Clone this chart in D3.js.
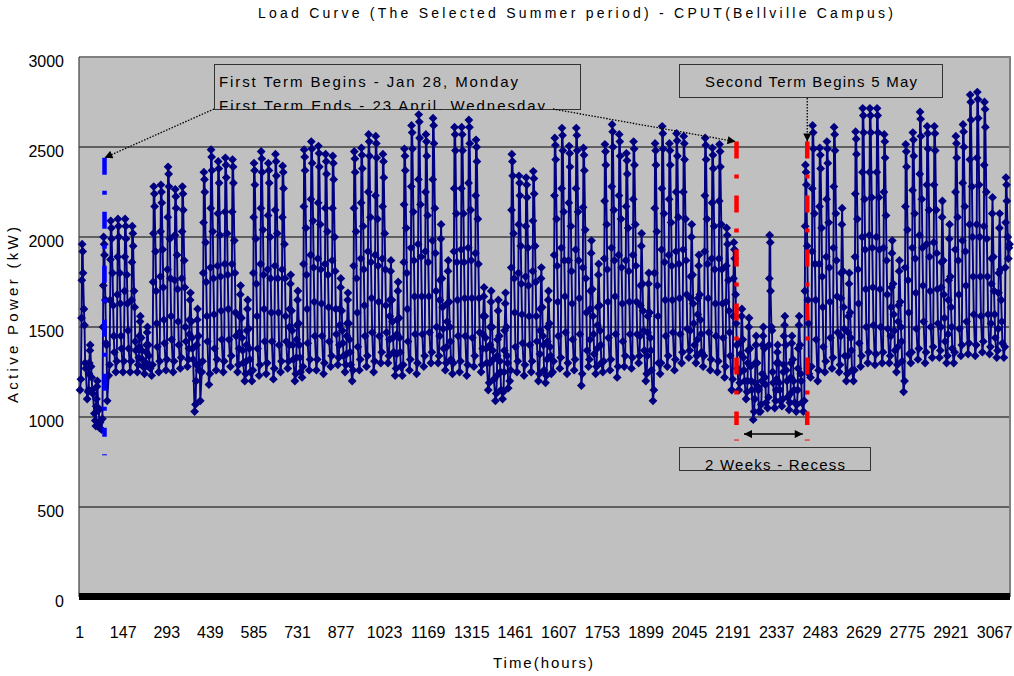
<!DOCTYPE html>
<html><head><meta charset="utf-8">
<script src="https://cdn.jsdelivr.net/npm/d3@7"></script>
<style>
body{margin:0;background:#fff}
text{font-family:"Liberation Sans",Arial,sans-serif;fill:#000}
</style>
</head><body><svg id="c" width="1014" height="676"></svg>
<script>
// Daily readings (kW) at fixed hours of each day, day 0 = 25 Jan (Fri) ... day 129 = 2 Jun
const sampleHours = [3, 6, 8, 9, 10, 12, 13, 16, 18, 20, 22];
const kwH03 = [
1150,1100,1020,930,1230,1250,1250,1250,1250,1240,
1230,1250,1260,1250,1270,1280,1030,1250,1180,1260,
1250,1280,1250,1200,1200,1230,1240,1210,1250,1270,
1200,1220,1260,1260,1240,1280,1290,1250,1200,1260,
1280,1250,1300,1300,1230,1230,1260,1240,1280,1300,
1300,1260,1240,1250,1230,1280,1250,1150,1090,1100,
1200,1250,1230,1250,1200,1190,1250,1270,1240,1260,
1175,1280,1240,1250,1260,1220,1280,1270,1300,1200,
1090,1240,1280,1260,1300,1330,1300,1280,1260,1250,
1220,1150,1150,1100,985,1030,1050,1050,1060,1040,
1030,1030,1220,1200,1250,1270,1250,1200,1200,1280,
1300,1290,1300,1300,1250,1140,1300,1320,1300,1330,
1330,1300,1300,1340,1350,1340,1360,1350,1330,1330];
const kwH06 = [
1210,1140,980,990,1290,1310,1310,1310,1290,1280,
1290,1310,1320,1310,1330,1320,1070,1310,1240,1320,
1310,1340,1290,1240,1260,1290,1300,1270,1310,1310,
1240,1280,1320,1320,1300,1340,1330,1290,1260,1320,
1340,1310,1360,1340,1270,1290,1320,1300,1340,1360,
1340,1300,1300,1310,1290,1340,1290,1190,1130,1140,
1260,1310,1290,1310,1240,1230,1310,1330,1300,1320,
1240,1320,1280,1310,1320,1280,1340,1330,1340,1240,
1150,1300,1340,1320,1360,1370,1340,1340,1320,1310,
1280,1210,1190,1140,1030,1070,1110,1090,1100,1080,
1070,1090,1280,1260,1310,1330,1290,1240,1260,1340,
1360,1350,1360,1340,1290,1200,1360,1380,1360,1390,
1370,1340,1360,1400,1410,1400,1420,1390,1370,1390];
const kwH08 = [
1550,1150,950,1500,1650,1680,1700,1650,1330,1300,
1750,1780,1820,1760,1770,1380,1200,1800,1830,1840,
1850,1850,1380,1310,1800,1850,1820,1840,1820,1400,
1330,1850,1900,1880,1850,1870,1400,1350,1840,1880,
1920,1900,1880,1430,1350,1860,1940,1960,1920,1980,
1450,1390,1920,1930,1940,1910,1380,1300,1230,1250,
1830,1800,1780,1810,1350,1320,1900,1940,1870,1930,
1830,1430,1380,1880,1940,1900,1870,1900,1450,1340,
1800,1930,1900,1920,1930,1480,1430,1920,1880,1880,
1640,1560,1250,1200,1100,1200,1400,1150,1250,1130,
1150,1700,1920,1850,1890,1940,1450,1340,1890,2000,
2010,2000,1940,1450,1390,1830,1940,2010,1960,1970,
1500,1460,1930,1980,2070,2070,2060,1520,1490,1830];
const kwH09 = [
1760,1240,1060,1730,1875,1890,1890,1860,1390,1360,
2020,2030,2110,2010,2030,1460,1290,2080,2160,2130,
2140,2140,1470,1400,2110,2160,2120,2150,2110,1500,
1430,2170,2210,2190,2160,2160,1510,1450,2160,2190,
2250,2230,2170,1560,1460,2180,2280,2320,2250,2320,
1650,1530,2270,2270,2300,2230,1460,1400,1340,1370,
2150,2070,2060,2090,1480,1420,2230,2270,2190,2270,
2165,1600,1510,2200,2280,2230,2170,2210,1620,1470,
2160,2270,2210,2250,2250,1660,1570,2230,2190,2200,
1840,1770,1350,1300,1190,1240,1770,1210,1290,1220,
1270,2060,2270,2170,2210,2280,1660,1470,2240,2360,
2360,2360,2250,1610,1530,2170,2260,2350,2290,2290,
1720,1650,2250,2300,2430,2440,2400,1740,1690,2080];
const kwH10 = [
1960,1300,1100,2000,2090,2100,2100,2060,1450,1400,
2280,2290,2390,2265,2280,1540,1400,2360,2485,2420,
2440,2430,1560,1480,2410,2475,2410,2460,2395,1600,
1510,2485,2530,2505,2460,2450,1600,1520,2475,2495,
2570,2560,2460,1650,1540,2490,2620,2680,2570,2660,
1760,1630,2610,2610,2650,2540,1560,1500,1430,1480,
2460,2340,2330,2365,1600,1500,2550,2605,2505,2605,
2495,1700,1610,2515,2625,2570,2465,2530,1730,1560,
2520,2615,2520,2575,2560,1780,1660,2550,2495,2515,
2050,1970,1420,1370,1300,1400,2010,1300,1450,1300,
1380,2400,2620,2495,2530,2610,1800,1560,2585,2715,
2715,2715,2570,1720,1620,2515,2580,2695,2615,2615,
1860,1760,2560,2625,2790,2805,2750,1880,1800,2330];
const kwH12 = [
1920,1370,1170,1960,2050,2060,2060,2020,1530,1470,
2240,2250,2350,2225,2240,1650,1540,2320,2445,2380,
2400,2390,1680,1600,2370,2435,2370,2420,2360,1740,
1650,2445,2490,2465,2420,2410,1720,1650,2435,2455,
2530,2520,2420,1810,1700,2450,2580,2640,2530,2620,
1990,1810,2570,2570,2610,2500,1670,1640,1590,1630,
2420,2300,2290,2325,1770,1650,2510,2565,2465,2565,
2455,1910,1790,2475,2585,2530,2425,2490,1950,1740,
2480,2575,2480,2535,2520,2000,1840,2510,2455,2475,
2010,1930,1560,1500,1400,1450,1970,1360,1510,1410,
1510,2360,2580,2455,2490,2570,2070,1740,2545,2675,
2675,2675,2530,1910,1810,2475,2540,2655,2575,2575,
2110,1990,2520,2585,2750,2765,2710,2130,2050,2290];
const kwH13 = [
1800,1400,1200,1900,1990,2000,1990,1950,1560,1500,
2170,2190,2280,2160,2150,1690,1600,2250,2370,2300,
2330,2300,1730,1650,2290,2360,2300,2340,2270,1790,
1700,2370,2410,2390,2350,2320,1770,1690,2360,2380,
2450,2440,2330,1870,1750,2370,2490,2550,2450,2520,
2070,1870,2480,2480,2520,2420,1720,1700,1650,1690,
2340,2230,2220,2240,1830,1700,2430,2480,2390,2480,
2370,1980,1850,2400,2500,2450,2350,2400,2020,1800,
2400,2490,2400,2450,2430,2070,1900,2430,2380,2390,
1960,1880,1600,1550,1450,1500,1700,1400,1560,1450,
1560,2290,2490,2380,2410,2480,2160,1800,2460,2580,
2580,2580,2440,1980,1870,2390,2450,2560,2490,2480,
2200,2070,2440,2500,2650,2660,2610,2220,2130,2200];
const kwH16 = [
1600,1280,1050,1650,1800,1800,1790,1700,1440,1400,
1920,1930,1990,1900,1870,1530,1450,1970,2030,2010,
2020,1980,1550,1490,1990,2040,2000,2020,1960,1590,
1520,2050,2090,2070,2030,2000,1590,1520,2030,2060,
2110,2100,2020,1650,1550,2050,2140,2180,2120,2160,
1770,1640,2130,2130,2150,2100,1560,1500,1450,1500,
2020,1950,1940,1950,1610,1520,2100,2140,2060,2140,
2040,1710,1620,2070,2150,2100,2050,2070,1740,1580,
2030,2130,2080,2110,2100,1790,1680,2100,2060,2070,
1760,1680,1430,1380,1300,1380,1500,1300,1400,1320,
1400,1950,2130,2050,2080,2130,1810,1580,2100,2210,
2220,2220,2120,1740,1640,2040,2130,2210,2150,2150,
1870,1780,2110,2170,2280,2290,2250,1890,1820,2000];
const kwH18 = [
1510,1220,1040,1410,1620,1630,1630,1610,1370,1340,
1700,1720,1770,1710,1720,1440,1260,1750,1770,1780,
1790,1800,1440,1380,1740,1790,1770,1770,1770,1480,
1400,1790,1830,1820,1790,1810,1480,1430,1770,1820,
1860,1840,1820,1530,1440,1800,1870,1890,1860,1910,
1610,1500,1860,1860,1870,1850,1440,1370,1310,1340,
1770,1740,1730,1750,1450,1390,1840,1870,1810,1870,
1770,1560,1480,1820,1870,1830,1810,1840,1590,1440,
1730,1860,1840,1850,1870,1630,1540,1850,1820,1820,
1590,1520,1330,1280,1170,1220,1480,1190,1260,1200,
1240,1650,1850,1780,1830,1870,1610,1440,1820,1930,
1940,1930,1870,1570,1500,1760,1880,1940,1890,1910,
1680,1610,1870,1920,2000,2000,1990,1700,1650,1880];
const kwH20 = [
1300,1150,940,1400,1450,1450,1480,1420,1320,1290,
1520,1540,1560,1530,1500,1380,1300,1560,1570,1590,
1600,1580,1370,1320,1560,1600,1580,1580,1560,1400,
1330,1600,1640,1630,1610,1600,1410,1360,1580,1620,
1660,1640,1620,1440,1360,1600,1670,1670,1670,1700,
1490,1420,1650,1660,1660,1660,1380,1320,1250,1300,
1580,1570,1560,1560,1400,1340,1640,1670,1630,1660,
1580,1460,1400,1640,1670,1630,1640,1640,1480,1370,
1560,1650,1650,1660,1680,1520,1460,1660,1630,1630,
1470,1400,1260,1200,1150,1180,1250,1150,1200,1150,
1200,1520,1650,1610,1640,1670,1490,1370,1630,1710,
1720,1710,1680,1480,1420,1580,1690,1730,1700,1710,
1550,1500,1680,1730,1780,1780,1780,1570,1530,1940];
const kwH22 = [
1270,1130,970,1090,1360,1380,1380,1370,1280,1270,
1390,1410,1430,1400,1420,1320,1090,1420,1380,1430,
1430,1450,1300,1250,1380,1420,1420,1400,1420,1320,
1250,1410,1450,1450,1420,1460,1340,1290,1390,1450,
1470,1450,1470,1360,1280,1420,1460,1460,1470,1500,
1380,1320,1450,1450,1440,1470,1300,1210,1150,1160,
1390,1410,1400,1420,1260,1240,1450,1470,1430,1460,
1370,1350,1300,1440,1460,1420,1460,1460,1370,1260,
1300,1450,1470,1460,1490,1400,1360,1470,1450,1440,
1340,1270,1200,1150,1030,1080,1190,1090,1110,1080,
1080,1240,1430,1390,1440,1470,1340,1260,1410,1500,
1510,1500,1490,1370,1310,1350,1490,1530,1500,1520,
1420,1380,1490,1530,1570,1560,1570,1440,1410,1960];

const xTickLabels = [1,147,293,439,585,731,877,1023,1169,1315,1461,1607,1753,1899,2045,2191,2337,2483,2629,2775,2921,3067];
const yTicks = [0,500,1000,1500,2000,2500,3000];
const totalHours = 3120;
// annotation markers (hour index, kW)
const termLines = [
  {hour: 86, top: 2440, bottom: 890, tick: 790, color: "#0000FF"},
  {hour: 2204, top: 2530, bottom: 955, tick: 872, color: "#FF0000"},
  {hour: 2441, top: 2530, bottom: 955, tick: 872, color: "#FF0000"}
];
const recessArrow = {from: 2229, to: 2426, kw: 905};

const svg = d3.select("#c");
const L = 79, R = 1010, T = 57, B = 597;
const x = d3.scaleLinear().domain([0.5, totalHours + 0.5]).range([L, R]);
const y = d3.scaleLinear().domain([0, 3000]).range([B, T]);

// build series
const series = [];
const sampleArrays = [kwH03, kwH06, kwH08, kwH09, kwH10, kwH12, kwH13, kwH16, kwH18, kwH20, kwH22];
for (let d = 0; d < kwH03.length; d++) {
  sampleHours.forEach((h, j) => series.push({h: d * 24 + h + 1, v: sampleArrays[j][d]}));
}

// defs
const defs = svg.append("defs");
defs.append("marker").attr("id","ah").attr("viewBox","0 0 10 10").attr("refX",10).attr("refY",5)
  .attr("markerWidth",10).attr("markerHeight",8).attr("markerUnits","userSpaceOnUse").attr("orient","auto-start-reverse")
  .append("path").attr("d","M0,0L10,5L0,10Z").attr("fill","#000");
defs.append("clipPath").attr("id","clipBox1").append("rect").attr("x",214).attr("y",64).attr("width",366).attr("height",46);
defs.append("clipPath").attr("id","clipBox3").append("rect").attr("x",679).attr("y",447).attr("width",192).attr("height",24);

// plot area
svg.append("rect").attr("x",L).attr("y",T).attr("width",R-L).attr("height",B-T).attr("fill","#C0C0C0");

// gridlines
svg.append("g").selectAll("line").data(yTicks.filter(v=>v>0 && v<3000)).join("line")
  .attr("x1",L).attr("x2",R).attr("y1",d=>y(d)).attr("y2",d=>y(d))
  .attr("stroke","#000").attr("stroke-width",1);
// plot border
svg.append("path").attr("d",`M${L},${T}H${R}V${B}`).attr("fill","none").attr("stroke","#808080").attr("stroke-width",2);
svg.append("line").attr("x1",L).attr("x2",L).attr("y1",T).attr("y2",B).attr("stroke","#404040").attr("stroke-width",1.2);

// data line
svg.append("path").datum(series)
  .attr("d", d3.line().x(d=>x(d.h)).y(d=>y(d.v)))
  .attr("fill","none").attr("stroke","#000080").attr("stroke-width",1.9);
const r = 4.4;
svg.append("g").selectAll("path").data(series).join("path")
  .attr("transform", d=>`translate(${x(d.h)},${y(d.v)})`)
  .attr("d", `M0,${-r}L${r},0L0,${r}L${-r},0Z`)
  .attr("fill","#000080");

// term lines
termLines.forEach(t => {
  svg.append("line").attr("x1",x(t.hour)).attr("x2",x(t.hour)).attr("y1",y(t.top)).attr("y2",y(t.bottom))
    .attr("stroke",t.color).attr("stroke-width",4.5).attr("stroke-dasharray","17,16,4,17");
  svg.append("line").attr("x1",x(t.hour)-2.5).attr("x2",x(t.hour)+2.5).attr("y1",y(t.tick)).attr("y2",y(t.tick))
    .attr("stroke",t.color).attr("stroke-width",1);
});

// x axis band (dense category ticks)
svg.append("rect").attr("x",L).attr("y",B-4).attr("width",R-L).attr("height",7).attr("fill","#000");

// y axis labels
svg.append("g").attr("transform",`translate(${L},0)`)
  .call(d3.axisLeft(y).tickValues(yTicks).tickSize(0).tickPadding(15).tickFormat(d3.format("d")))
  .call(g=>g.select(".domain").remove())
  .call(g=>g.selectAll("text").attr("font-size",16).attr("font-family","Liberation Sans, Arial, sans-serif").attr("dy","0.6em"));

// x axis labels
svg.append("g").attr("transform",`translate(0,${B})`)
  .call(d3.axisBottom(x).tickValues(xTickLabels).tickSize(0).tickPadding(30).tickFormat(d3.format("d")))
  .call(g=>g.select(".domain").remove())
  .call(g=>g.selectAll("text").attr("font-size",16).attr("font-family","Liberation Sans, Arial, sans-serif"));

// titles
svg.append("text").attr("x",258).attr("y",18).attr("font-size",14).attr("textLength",635).attr("lengthAdjust","spacing")
  .text("Load Curve (The Selected Summer period) - CPUT(Bellville Campus)");
svg.append("text").attr("x",493).attr("y",668).attr("font-size",15).attr("textLength",100).attr("lengthAdjust","spacing")
  .text("Time(hours)");
svg.append("text").attr("transform","translate(18,403) rotate(-90)").attr("font-size",15)
  .attr("textLength",176).attr("lengthAdjust","spacing").text("Active Power (kW)");

// annotation box 1
svg.append("rect").attr("x",214.5).attr("y",64.5).attr("width",366).attr("height",45)
  .attr("fill","none").attr("stroke","#333").attr("stroke-width",1);
const b1 = svg.append("g").attr("clip-path","url(#clipBox1)");
b1.append("text").attr("x",219).attr("y",87).attr("font-size",15).attr("textLength",299).attr("lengthAdjust","spacing")
  .text("First Term Begins - Jan 28, Monday");
b1.append("text").attr("x",219).attr("y",111).attr("font-size",15).attr("textLength",326).attr("lengthAdjust","spacing")
  .text("First Term Ends - 23 April, Wednesday");
svg.append("line").attr("x1",214).attr("y1",109).attr("x2",x(termLines[0].hour)).attr("y2",y(termLines[0].top))
  .attr("stroke","#000").attr("stroke-width",1.3).attr("stroke-dasharray","1.5,1.5").attr("marker-end","url(#ah)");
svg.append("line").attr("x1",553).attr("y1",109).attr("x2",x(termLines[1].hour)-1).attr("y2",y(termLines[1].top))
  .attr("stroke","#000").attr("stroke-width",1.3).attr("stroke-dasharray","1.5,1.5").attr("marker-end","url(#ah)");

// annotation box 2
svg.append("rect").attr("x",679.5).attr("y",64.5).attr("width",263).attr("height",33)
  .attr("fill","none").attr("stroke","#333").attr("stroke-width",1);
svg.append("text").attr("x",705).attr("y",87).attr("font-size",15).attr("textLength",212).attr("lengthAdjust","spacing")
  .text("Second Term Begins 5 May");
svg.append("line").attr("x1",x(termLines[2].hour)).attr("y1",98).attr("x2",x(termLines[2].hour)).attr("y2",y(termLines[2].top))
  .attr("stroke","#000").attr("stroke-width",1.3).attr("stroke-dasharray","1.5,1.5").attr("marker-end","url(#ah)");

// recess arrow + box 3
svg.append("line").attr("x1",x(recessArrow.from)).attr("x2",x(recessArrow.to)).attr("y1",y(recessArrow.kw)).attr("y2",y(recessArrow.kw))
  .attr("stroke","#000").attr("stroke-width",1.5).attr("marker-start","url(#ah)").attr("marker-end","url(#ah)");
svg.append("rect").attr("x",679.5).attr("y",447.5).attr("width",191).attr("height",23)
  .attr("fill","none").attr("stroke","#333").attr("stroke-width",1);
svg.append("g").attr("clip-path","url(#clipBox3)").append("text").attr("x",705).attr("y",470).attr("font-size",15)
  .attr("textLength",140).attr("lengthAdjust","spacing").text("2 Weeks - Recess");
</script>
</body></html>
